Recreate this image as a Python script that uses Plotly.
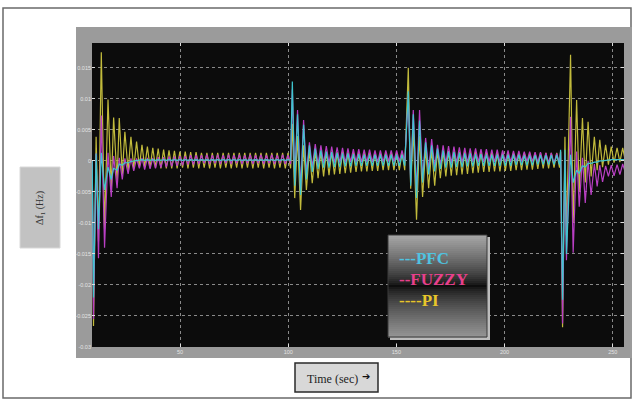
import plotly.graph_objects as go

# ------------------------------------------------------------------
# DATA  (frequency deviation of area 1, Hz)
# ------------------------------------------------------------------
# initial load step (t ~ 10 s)
t_step0 = [9.4, 10.0, 11.2, 12.3, 13.6, 15.1, 16.7, 18.2, 19.3, 20.9, 21.9, 23.3,
           24.5, 26.0, 27.3, 28.6, 29.9, 31.2, 32.4]
pi_step0 = [0.0, -0.0266, 0.0039, -0.0130, 0.0175, -0.0110, 0.0099, -0.0045, 0.0070,
            -0.0032, 0.0069, -0.0022, 0.0047, -0.0016, 0.0039, -0.0012, 0.0031, -0.0010, 0.0026]
fuzzy_step0 = [0.0, -0.0255, 0.0012, -0.0157, 0.0073, -0.0140, 0.0013, -0.0058, 0.0008,
               -0.0044, 0.0005, -0.0030, 0.0004, -0.0021, 0.0004, -0.0016, 0.0004, -0.0012, 0.0005]
pfc_step0 = [0.0, -0.0220, 0.0012, -0.0110, 0.0013, -0.0047, -0.0010, -0.0030, -0.0012,
             -0.0015, -0.0005, -0.0007, -0.0003, -0.0003, -0.0001, 0.0000, 0.0001, 0.0001, 0.0002]

# settling, 33 s .. 100 s
t_settle1 = [33.65, 34.9, 36.15, 37.4, 38.65, 39.9, 41.15, 42.4,
             43.65, 44.9, 46.15, 47.4, 48.65, 49.9, 51.15, 52.4,
             53.65, 54.9, 56.15, 57.4, 58.65, 59.9, 61.15, 62.4,
             63.65, 64.9, 66.15, 67.4, 68.65, 69.9, 71.15, 72.4,
             73.65, 74.9, 76.15, 77.4, 78.65, 79.9, 81.15, 82.4,
             83.65, 84.9, 86.15, 87.4, 88.65, 89.9, 91.15, 92.4,
             93.65, 94.9, 96.15, 97.4, 98.65, 99.9]
pi_settle1 = [-0.0010, 0.0023, -0.0011, 0.0021, -0.0011, 0.0020, -0.0012, 0.0018,
              -0.0012, 0.0017, -0.0012, 0.0016, -0.0012, 0.0015, -0.0011, 0.0015,
              -0.0012, 0.0014, -0.0011, 0.0014, -0.0012, 0.0013, -0.0011, 0.0013,
              -0.0012, 0.0013, -0.0011, 0.0013, -0.0012, 0.0013, -0.0011, 0.0013,
              -0.0012, 0.0013, -0.0011, 0.0013, -0.0012, 0.0013, -0.0011, 0.0013,
              -0.0012, 0.0013, -0.0011, 0.0013, -0.0012, 0.0013, -0.0011, 0.0013,
              -0.0012, 0.0013, -0.0011, 0.0013, -0.0012, 0.0013]
fuzzy_settle1 = [-0.0014, 0.0005, -0.0013, 0.0005, -0.0012, 0.0006, -0.0011, 0.0006,
                 -0.0010, 0.0007, -0.0009, 0.0007, -0.0008, 0.0008, -0.0007, 0.0008,
                 -0.0006, 0.0009, -0.0006, 0.0009, -0.0005, 0.0009, -0.0004, 0.0010,
                 -0.0005, 0.0009, -0.0004, 0.0010, -0.0005, 0.0009, -0.0004, 0.0010,
                 -0.0005, 0.0009, -0.0004, 0.0010, -0.0005, 0.0009, -0.0004, 0.0010,
                 -0.0005, 0.0009, -0.0004, 0.0010, -0.0005, 0.0009, -0.0004, 0.0010,
                 -0.0005, 0.0009, -0.0004, 0.0010, -0.0005, 0.0009]
pfc_settle1 = [0.0001, 0.0002, 0.0001, 0.0002, 0.0001, 0.0002, 0.0001, 0.0002,
               0.0001, 0.0002, 0.0001, 0.0002, 0.0001, 0.0002, 0.0001, 0.0002,
               0.0001, 0.0002, 0.0001, 0.0002, 0.0001, 0.0002, 0.0001, 0.0002,
               0.0001, 0.0002, 0.0001, 0.0002, 0.0001, 0.0002, 0.0001, 0.0002,
               0.0001, 0.0002, 0.0001, 0.0002, 0.0001, 0.0002, 0.0001, 0.0002,
               0.0001, 0.0002, 0.0001, 0.0002, 0.0001, 0.0002, 0.0001, 0.0002,
               0.0001, 0.0002, 0.0001, 0.0002, 0.0001, 0.0002]

# second disturbance (t ~ 102 s) and settling
t_step1 = [101.1, 101.9, 103.0, 104.3, 105.7, 107.1, 108.4, 109.8, 111.1, 112.5, 113.8, 115.1,
           116.35, 117.6, 118.85, 120.1, 121.35, 122.6, 123.85, 125.1,
           126.35, 127.6, 128.85, 130.1, 131.35, 132.6, 133.85, 135.1,
           136.35, 137.6, 138.85, 140.1, 141.35, 142.6, 143.85, 145.1,
           146.35, 147.6, 148.85, 150.1, 151.35, 152.6, 153.85]
pi_step1 = [-0.0012, 0.0060, -0.0060, 0.0040, -0.0079, 0.0025, -0.0047, 0.0018, -0.0036, 0.0016, -0.0028, 0.0015,
            -0.0025, 0.0015, -0.0023, 0.0015, -0.0022, 0.0014, -0.0021, 0.0014,
            -0.0020, 0.0014, -0.0019, 0.0013, -0.0018, 0.0013, -0.0017, 0.0013,
            -0.0017, 0.0013, -0.0016, 0.0013, -0.0016, 0.0013, -0.0015, 0.0013,
            -0.0015, 0.0013, -0.0015, 0.0013, -0.0015, 0.0013, -0.0015]
fuzzy_step1 = [-0.0005, 0.0115, -0.0030, 0.0082, -0.0045, 0.0066, -0.0020, 0.0030, -0.0010, 0.0027, -0.0006, 0.0025,
               -0.0004, 0.0024, -0.0004, 0.0023, -0.0003, 0.0022, -0.0003, 0.0021,
               -0.0003, 0.0020, -0.0002, 0.0019, -0.0002, 0.0019, -0.0002, 0.0018,
               -0.0002, 0.0018, -0.0002, 0.0017, -0.0002, 0.0017, -0.0002, 0.0017,
               -0.0001, 0.0017, -0.0001, 0.0017, -0.0001, 0.0017, -0.0001]
pfc_step1 = [0.0001, 0.0128, -0.0040, 0.0075, -0.0055, 0.0058, -0.0030, 0.0025, -0.0018, 0.0020, -0.0013, 0.0017,
             -0.0011, 0.0015, -0.0011, 0.0014, -0.0010, 0.0013, -0.0010, 0.0012,
             -0.0009, 0.0012, -0.0009, 0.0011, -0.0008, 0.0011, -0.0008, 0.0010,
             -0.0008, 0.0010, -0.0008, 0.0010, -0.0008, 0.0010, -0.0008, 0.0010,
             -0.0008, 0.0010, -0.0008, 0.0010, -0.0008, 0.0010, -0.0008]

# third disturbance (t ~ 155 s) and settling
t_step2 = [155.5, 156.6, 157.8, 159.3, 160.7, 162.1, 163.5, 164.9, 166.3, 167.7, 169.0, 170.3, 171.6,
           172.85, 174.1, 175.35, 176.6, 177.85, 179.1, 180.35, 181.6,
           182.85, 184.1, 185.35, 186.6, 187.85, 189.1, 190.35, 191.6,
           192.85, 194.1, 195.35, 196.6, 197.85, 199.1, 200.35, 201.6,
           202.85, 204.1, 205.35, 206.6, 207.85, 209.1, 210.35, 211.6,
           212.85, 214.1, 215.35, 216.6, 217.85, 219.1, 220.35, 221.6,
           222.85, 224.1]
pi_step2 = [0.0150, -0.0045, 0.0050, -0.0095, 0.0040, -0.0058, 0.0020, -0.0044, 0.0018, -0.0040, 0.0017, -0.0028, 0.0016,
            -0.0025, 0.0016, -0.0024, 0.0016, -0.0023, 0.0015, -0.0022, 0.0015,
            -0.0021, 0.0015, -0.0020, 0.0014, -0.0019, 0.0014, -0.0018, 0.0014,
            -0.0018, 0.0014, -0.0017, 0.0013, -0.0017, 0.0013, -0.0016, 0.0013,
            -0.0016, 0.0013, -0.0015, 0.0013, -0.0015, 0.0013, -0.0014, 0.0013,
            -0.0014, 0.0013, -0.0013, 0.0013, -0.0012, 0.0013, -0.0012, 0.0013,
            -0.0011, 0.0013]
fuzzy_step2 = [0.0105, -0.0035, 0.0082, -0.0050, 0.0082, -0.0030, 0.0037, -0.0015, 0.0035, -0.0010, 0.0026, -0.0007, 0.0025,
               -0.0004, 0.0024, -0.0004, 0.0023, -0.0003, 0.0022, -0.0003, 0.0021,
               -0.0003, 0.0020, -0.0002, 0.0020, -0.0002, 0.0019, -0.0002, 0.0019,
               -0.0002, 0.0018, -0.0002, 0.0018, -0.0002, 0.0017, -0.0002, 0.0017,
               -0.0002, 0.0016, -0.0001, 0.0016, -0.0001, 0.0015, -0.0001, 0.0015,
               -0.0001, 0.0014, -0.0002, 0.0014, -0.0003, 0.0013, -0.0003, 0.0013,
               -0.0004, 0.0012]
pfc_step2 = [0.0112, -0.0040, 0.0075, -0.0060, 0.0065, -0.0035, 0.0030, -0.0022, 0.0025, -0.0017, 0.0020, -0.0013, 0.0017,
             -0.0011, 0.0015, -0.0011, 0.0014, -0.0010, 0.0013, -0.0010, 0.0012,
             -0.0009, 0.0012, -0.0009, 0.0011, -0.0008, 0.0011, -0.0008, 0.0010,
             -0.0008, 0.0010, -0.0008, 0.0010, -0.0008, 0.0010, -0.0008, 0.0010,
             -0.0008, 0.0010, -0.0007, 0.0010, -0.0007, 0.0009, -0.0007, 0.0009,
             -0.0007, 0.0009, -0.0006, 0.0009, -0.0006, 0.0009, -0.0006, 0.0009,
             -0.0006, 0.0009]

# fourth disturbance (t ~ 226 s) and settling
t_step3 = [225.4, 225.9, 226.8, 227.9, 228.6, 230.5, 231.7, 233.3, 234.5, 236.0, 237.3, 238.6,
           240.0, 241.5, 242.8, 244.0, 245.3, 246.7, 248.0, 249.3, 250.6, 252.0, 253.3, 254.6, 255.9]
pi_step3 = [-0.0011, 0.0015, -0.0268, 0.0039, -0.0120, 0.0171, -0.0100, 0.0098, -0.0050, 0.0069, -0.0035, 0.0063,
            -0.0025, 0.0039, -0.0015, 0.0034, -0.0010, 0.0026, -0.0006, 0.0023, -0.0003, 0.0021, -0.0002, 0.0021, -0.0001]
fuzzy_step3 = [-0.0004, 0.0015, -0.0262, 0.0010, -0.0160, 0.0071, -0.0148, 0.0015, -0.0074, 0.0005, -0.0068, 0.0000,
               -0.0055, -0.0005, -0.0041, -0.0007, -0.0034, -0.0008, -0.0025, -0.0007, -0.0024, -0.0006, -0.0022, -0.0005, -0.0020]
pfc_step3 = [-0.0006, 0.0018, -0.0224, 0.0018, -0.0150, 0.0010, -0.0035, -0.0015, -0.0020, -0.0008, -0.0010, -0.0004,
             -0.0004, -0.0002, -0.0002, 0.0000, 0.0000, 0.0001, 0.0001, 0.0002, 0.0002, 0.0002, 0.0002, 0.0002, 0.0002]

time_s = t_step0 + t_settle1 + t_step1 + t_step2 + t_step3
pi_hz = pi_step0 + pi_settle1 + pi_step1 + pi_step2 + pi_step3
fuzzy_hz = fuzzy_step0 + fuzzy_settle1 + fuzzy_step1 + fuzzy_step2 + fuzzy_step3
pfc_hz = pfc_step0 + pfc_settle1 + pfc_step1 + pfc_step2 + pfc_step3
assert len(time_s) == len(pi_hz) == len(fuzzy_hz) == len(pfc_hz), (
    len(time_s), len(pi_hz), len(fuzzy_hz), len(pfc_hz))

x_tick_vals = [50, 100, 150, 200, 250]
x_tick_text = ["50", "100", "150", "200", "250"]
y_tick_vals = [0.015, 0.01, 0.005, 0, -0.005, -0.01, -0.015, -0.02, -0.025, -0.03]
y_tick_text = ["0.015", "0.01", "0.005", "0", "-0.005", "-0.01", "-0.015", "-0.02", "-0.025", "-0.03"]
legend_labels = ["---PFC", "--FUZZY", "----PI"]
y_title = "Δf<sub>1</sub> (Hz)"
x_title = "Time (sec)"

# ------------------------------------------------------------------
# LAYOUT helpers (pixel -> paper for decoration only)
# ------------------------------------------------------------------
W, H = 632, 400
ML, MR, MT, MB = 92, 8, 43, 53
PW, PH = W - ML - MR, H - MT - MB


def px(x):
    return (x - ML) / PW


def py(y):
    return (H - MB - y) / PH


def rect(x0, y0, x1, y1, fill, line_color=None, lw=0, layer="below"):
    return dict(type="rect", xref="paper", yref="paper",
                x0=px(x0), x1=px(x1), y0=py(y1), y1=py(y0),
                fillcolor=fill, layer=layer,
                line=dict(color=line_color or fill, width=lw))


shapes = [
    rect(3, 8, 631, 398, "white", "#6a6a6a", 1.5),           # outer frame
    rect(76, 27, 633, 358, "#9b9b9b"),                         # scope panel
    rect(92, 43, 624, 347, "#0c0c0c"),                         # black axes area
    rect(20, 167, 60, 248, "#c2c2c2", "#d8d8d8", 1),           # y label box
    rect(295, 363, 378, 392, "#d8d8d8", "#2a2a2a", 1.5),      # x label box
    rect(390, 237, 490, 340, "#bdbdbd", layer="above"),       # legend shadow
]

# legend box vertical gradient (grey -> black band -> grey)
ly0, ly1, ymid = 235, 337, 286
n_band = 51
bh = (ly1 - ly0) / n_band
for i in range(n_band):
    yc = ly0 + (i + 0.5) * bh
    d = abs(yc - ymid)
    span = (ymid - ly0) if yc < ymid else (ly1 - ymid)
    f = min(1.0, d / span) ** 0.75
    top = 168 if yc < ymid else 150
    v = int(14 + (top - 14) * f)
    col = "rgb(%d,%d,%d)" % (v, v, v)
    shapes.append(rect(388, ly0 + i * bh, 487, ly0 + (i + 1) * bh + 0.6, col, layer="above"))
shapes.append(dict(type="rect", xref="paper", yref="paper",
                   x0=px(388), x1=px(487), y0=py(337), y1=py(235),
                   fillcolor="rgba(0,0,0,0)", layer="above",
                   line=dict(color="#3a3a3a", width=1)))

annotations = [
    dict(text="<b>" + legend_labels[0] + "</b>", x=px(397), y=py(258), xref="paper", yref="paper",
         xanchor="left", yanchor="middle", showarrow=False,
         font=dict(family="Liberation Serif", size=17, color="#4fc3e0")),
    dict(text="<b>" + legend_labels[1] + "</b>", x=px(397), y=py(279), xref="paper", yref="paper",
         xanchor="left", yanchor="middle", showarrow=False,
         font=dict(family="Liberation Serif", size=17, color="#e8408c")),
    dict(text="<b>" + legend_labels[2] + "</b>", x=px(397), y=py(300), xref="paper", yref="paper",
         xanchor="left", yanchor="middle", showarrow=False,
         font=dict(family="Liberation Serif", size=17, color="#e8c62a")),
    dict(text=y_title, x=px(40), y=py(208), xref="paper", yref="paper",
         xanchor="center", yanchor="middle", showarrow=False, textangle=-90,
         font=dict(family="Liberation Serif", size=10, color="#333333")),
    dict(text=x_title, x=px(332), y=py(379), xref="paper", yref="paper",
         xanchor="center", yanchor="middle", showarrow=False,
         font=dict(family="Liberation Serif", size=12, color="#222222")),
    dict(text="➔", x=px(366), y=py(376), xref="paper", yref="paper",
         xanchor="center", yanchor="middle", showarrow=False,
         font=dict(family="DejaVu Sans", size=10, color="#111111")),
]

fig = go.Figure()
fig.add_trace(go.Scatter(x=time_s, y=pi_hz, mode="lines", name="PI",
                         line=dict(color="#c2bb3c", width=1.2)))
fig.add_trace(go.Scatter(x=time_s, y=fuzzy_hz, mode="lines", name="FUZZY",
                         line=dict(color="#b93fc4", width=1.2)))
fig.add_trace(go.Scatter(x=time_s, y=pfc_hz, mode="lines", name="PFC",
                         line=dict(color="#3fc6cf", width=1.2)))

axis_common = dict(ticks="inside", ticklen=3, tickcolor="#e0e0e0", mirror="ticks",
                   showline=False, zeroline=False, showgrid=True,
                   gridcolor="#8a8a8a", griddash="dot", gridwidth=1,
                   tickfont=dict(family="Arial, Liberation Sans", size=5.5, color="#e4e4e4"),
                   fixedrange=True)

fig.update_layout(
    width=W, height=H,
    margin=dict(l=ML, r=MR, t=MT, b=MB, pad=0),
    paper_bgcolor="white", plot_bgcolor="rgba(0,0,0,0)",
    showlegend=False,
    shapes=shapes, annotations=annotations,
    xaxis=dict(range=[9.3, 255.2], tickvals=x_tick_vals, ticktext=x_tick_text, **axis_common),
    yaxis=dict(range=[-0.03, 0.019], tickvals=y_tick_vals, ticktext=y_tick_text, **axis_common),
)

fig.write_html("out.html", config={"displayModeBar": False},
               post_script="document.body.style.margin='0';")
